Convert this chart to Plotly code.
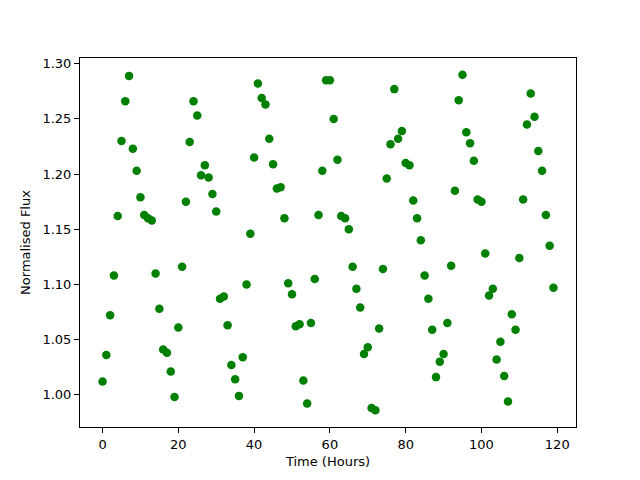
import plotly.graph_objects as go

time_hours = list(range(120))
flux = [
    1.012, 1.036, 1.072, 1.108, 1.162, 1.230, 1.266, 1.289, 1.223, 1.203,
    1.179, 1.163, 1.160, 1.158, 1.110, 1.078, 1.041, 1.038, 1.021, 0.998,
    1.061, 1.116, 1.175, 1.229, 1.266, 1.253, 1.199, 1.208, 1.197, 1.182,
    1.166, 1.087, 1.089, 1.063, 1.027, 1.014, 0.999, 1.034, 1.100, 1.146,
    1.215, 1.282, 1.269, 1.263, 1.232, 1.209, 1.187, 1.188, 1.160, 1.101,
    1.091, 1.062, 1.064, 1.013, 0.992, 1.065, 1.105, 1.163, 1.203, 1.285,
    1.285, 1.250, 1.213, 1.162, 1.160, 1.150, 1.116, 1.096, 1.079, 1.037,
    1.043, 0.988, 0.986, 1.060, 1.114, 1.196, 1.227, 1.277, 1.232, 1.239,
    1.210, 1.208, 1.176, 1.160, 1.140, 1.108, 1.087, 1.059, 1.016, 1.030,
    1.037, 1.065, 1.117, 1.185, 1.267, 1.290, 1.238, 1.228, 1.212, 1.177,
    1.175, 1.128, 1.090, 1.096, 1.032, 1.048, 1.017, 0.994, 1.073, 1.059,
    1.124, 1.177, 1.245, 1.273, 1.252, 1.221, 1.203, 1.163, 1.135, 1.097,
]
x_ticks = [0, 20, 40, 60, 80, 100, 120]
y_ticks = [1.00, 1.05, 1.10, 1.15, 1.20, 1.25, 1.30]

fig = go.Figure(go.Scatter(
    x=time_hours, y=flux, mode="markers",
    marker=dict(color="green", size=8.5, line=dict(width=0)),
))

axis_common = dict(
    showline=True, linecolor="black", linewidth=1, mirror=True,
    ticks="outside", ticklen=5, tickwidth=1, tickcolor="black",
    showgrid=False, zeroline=False, automargin=False,
    tickfont=dict(family="DejaVu Sans", size=13, color="black"),
    title_font=dict(family="DejaVu Sans", size=13, color="black"),
)

fig.update_layout(
    width=632, height=472,
    margin=dict(l=72, r=64, t=50, b=53),
    paper_bgcolor="white", plot_bgcolor="white",
    showlegend=False,
    xaxis=dict(range=[-5.95, 124.95], tickvals=x_ticks, title=dict(text="Time (Hours)", standoff=6), **axis_common),
    yaxis=dict(range=[0.9708, 1.3052], tickvals=y_ticks, tickformat=".2f", title=dict(text="Normalised Flux", standoff=8), **axis_common),
)

fig.write_html("out.html")
